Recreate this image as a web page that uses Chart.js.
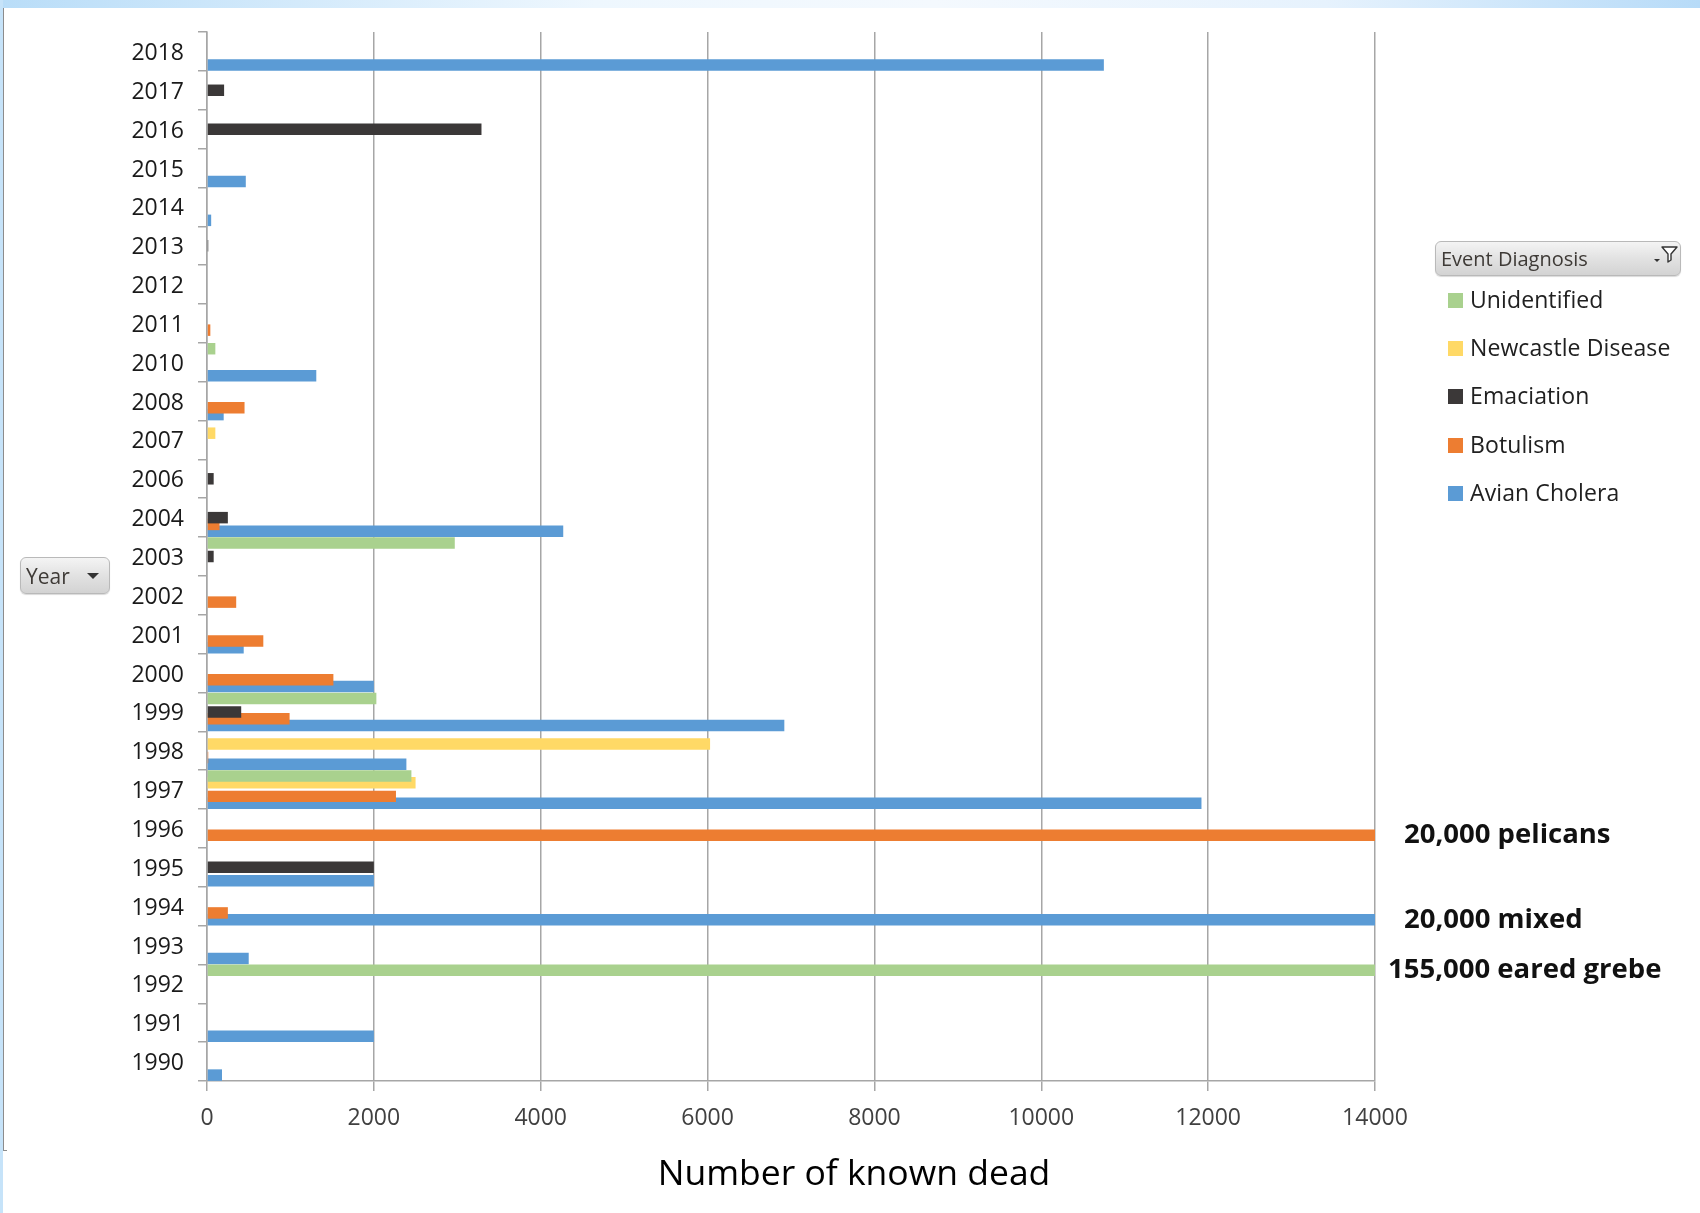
<!DOCTYPE html>
<html>
<head>
<meta charset="utf-8">
<title>Known dead by event diagnosis</title>
<script src="https://cdn.jsdelivr.net/npm/chart.js@4.4.1/dist/chart.umd.min.js"></script>
<style>
  html, body { margin: 0; padding: 0; background: #fff; }
  #wrap { position: relative; width: 1700px; height: 1213px; overflow: hidden; font-family: 'Open Sans', 'Noto Sans', sans-serif; }
  #topStrip { position: absolute; left: 0; top: 0; width: 1700px; height: 8px;
    background: linear-gradient(to right, #b9ddf8 0%, #eef7fe 35%, #f4f9fe 55%, #e6f2fd 78%, #b7dbf8 100%); }
  #leftStrip { position: absolute; left: 0; top: 0; width: 3px; height: 1213px; background: #c6e3f9; }
  #leftLine { position: absolute; left: 3px; top: 8px; width: 1px; height: 1142px; background: #8c8c8c; }
  #leftTick { position: absolute; left: 3px; top: 1150px; width: 4px; height: 1px; background: #8c8c8c; }
  canvas { position: absolute; left: 0; top: 0; }
  .btn { position: absolute; box-sizing: border-box; border: 1px solid #b9b9b9; border-radius: 6px;
    background: linear-gradient(to bottom, #f4f4f4 0%, #e2e2e2 50%, #d3d3d3 100%);
    box-shadow: 0 1px 1px rgba(0,0,0,0.15); color: #3e3a36; }
  #yearBtn { left: 20px; top: 557px; width: 90px; height: 37px; }
  #yearBtn span { position: absolute; left: 5px; top: 4px; font-size: 21px; }
  #yearBtn i { position: absolute; left: 66px; top: 15px; width: 0; height: 0;
    border-left: 6px solid transparent; border-right: 6px solid transparent; border-top: 6px solid #333; }
  #diagBtn { left: 1435px; top: 241px; width: 246px; height: 35px; }
  #diagBtn span { position: absolute; left: 5px; top: 3px; font-size: 20px; }
  #diagBtn svg { position: absolute; left: 214px; top: 2px; }
  #legend { position: absolute; left: 1448px; top: 286px; }
  .item { position: relative; height: 48.2px; }
  .item b { position: absolute; left: 0; top: 7px; width: 15px; height: 15px; }
  .item span { position: absolute; left: 22px; top: -3px; font-size: 23px; letter-spacing: 0.1px; color: #202020; white-space: nowrap; }
</style>
</head>
<body>
<div id="wrap">
  <div id="topStrip"></div>
  <div id="leftStrip"></div>
  <div id="leftLine"></div>
  <div id="leftTick"></div>
  <canvas id="chart" width="1700" height="1213"></canvas>
  <div class="btn" id="yearBtn"><span>Year</span><i></i></div>
  <div class="btn" id="diagBtn"><span>Event Diagnosis</span>
    <svg width="30" height="26" viewBox="0 0 30 26">
      <path d="M12 3 L27 3 L21 10 L21 16 L18 18 L18 10 Z" fill="#fff" stroke="#333" stroke-width="1.4" stroke-linejoin="round"/>
      <path d="M4 15 L10 15 L7 18 Z" fill="#333"/>
    </svg>
  </div>
  <div id="legend"></div>
</div>
<script>
// Nam, tu tren xuong duoi
const years = ['2018', '2017', '2016', '2015', '2014', '2013', '2012', '2011', '2010', '2008',
               '2007', '2006', '2004', '2003', '2002', '2001', '2000', '1999', '1998', '1997',
               '1996', '1995', '1994', '1993', '1992', '1991', '1990'];

const unidentified = [null, null, null, null, null, null, null, null, 100, null,
                      null, null, null, 2970, null, null, null, 2030, null, 2450,
                      null, null, null, null, 155000, null, null];
const newcastle = [null, null, null, null, null, null, null, null, null, null,
                   100, null, null, null, null, null, null, null, 6030, 2500,
                   null, null, null, null, null, null, null];
const emaciation = [null, 205, 3290, null, null, 15, null, null, null, null,
                    null, 80, 250, 80, null, null, null, 410, null, null,
                    null, 2000, null, null, null, null, null];
const botulism = [null, null, null, null, null, null, null, 40, null, 450,
                  null, null, 150, null, 350, 675, 1515, 990, 15, 2265,
                  20000, null, 250, null, null, null, null];
const avianCholera = [10750, null, null, 465, 50, null, null, null, 1310, 200,
                      null, null, 4270, null, null, 440, 2000, 6920, 2390, 11920,
                      null, 2000, 20000, 500, null, 2000, 180];

const seriesNames = ['Unidentified', 'Newcastle Disease', 'Emaciation', 'Botulism', 'Avian Cholera'];
const seriesColors = ['#a9d18e', '#ffd966', '#3b3838', '#ed7d31', '#5b9bd5'];
const seriesValues = [unidentified, newcastle, emaciation, botulism, avianCholera];

const xTicks = [0, 2000, 4000, 6000, 8000, 10000, 12000, 14000];
const xTitle = 'Number of known dead';

// Ghi chu cho cac cot vuot qua truc
const noteYears = ['1996', '1994', '1992'];
const noteSeries = ['Botulism', 'Avian Cholera', 'Unidentified'];
const noteTexts = ['20,000 pelicans', '20,000 mixed', '155,000 eared grebe'];

const FONT = "'Open Sans', 'Noto Sans', sans-serif";
const GRID = '#a6a6a6';

const notesPlugin = {
    id: 'notes',
    afterDatasetsDraw(chart) {
        const ctx = chart.ctx;
        const area = chart.chartArea;
        ctx.save();
        ctx.font = 'bold 27.5px ' + FONT;
        ctx.fillStyle = '#111';
        ctx.textBaseline = 'middle';
        ctx.textAlign = 'left';
        noteTexts.forEach((text, i) => {
            const ds = seriesNames.indexOf(noteSeries[i]);
            const idx = years.indexOf(noteYears[i]);
            const bar = chart.getDatasetMeta(ds).data[idx];
            if (!bar) return;
            const gap = text.length > 16 ? 13 : 29;
            ctx.fillText(text, area.right + gap, bar.y);
        });
        ctx.restore();
    }
};

// Tieu de truc x, can giua theo ca khung hinh (khong theo vung ve)
const xTitlePlugin = {
    id: 'xTitle',
    afterDraw(chart) {
        const ctx = chart.ctx;
        ctx.save();
        ctx.font = '35.5px ' + FONT;
        ctx.fillStyle = '#000';
        ctx.textAlign = 'center';
        ctx.textBaseline = 'middle';
        ctx.fillText(xTitle, chart.width / 2 + 4, chart.height - 38);
        ctx.restore();
    }
};

const chart = new Chart(document.getElementById('chart'), {
    type: 'bar',
    data: {
        labels: years,
        datasets: seriesNames.map((name, i) => ({
            label: name,
            data: seriesValues[i],
            backgroundColor: seriesColors[i],
            borderWidth: 0,
            categoryPercentage: 0.87,
            barPercentage: 1.7
        }))
    },
    options: {
        indexAxis: 'y',
        responsive: false,
        animation: false,
        layout: { padding: { top: 32, right: 325, left: 0, bottom: 0 } },
        plugins: {
            legend: { display: false },
            tooltip: { enabled: false }
        },
        scales: {
            y: {
                type: 'category',
                offset: true,
                grid: { display: true, offset: true, drawOnChartArea: false, drawTicks: true,
                        tickLength: 9, color: GRID, lineWidth: 1.5 },
                border: { color: GRID, width: 1.5 },
                ticks: { font: { family: FONT, size: 23 }, color: '#1a1a1a', padding: 14, labelOffset: 2 },
                afterFit: s => { s.width = 207; }
            },
            x: {
                type: 'linear',
                min: 0,
                max: 14000,
                afterBuildTicks: s => { s.ticks = xTicks.map(v => ({ value: v })); },
                grid: { color: GRID, lineWidth: 1.5, tickLength: 10, drawTicks: true },
                border: { color: GRID, width: 1.5 },
                ticks: { font: { family: FONT, size: 23 }, color: '#404040', padding: 14,
                         callback: v => String(v) },
                afterFit: s => { s.height = 132; }
            }
        }
    },
    plugins: [notesPlugin, xTitlePlugin]
});

// Chu giai ve bang HTML
const legend = document.getElementById('legend');
seriesNames.forEach((name, i) => {
    const row = document.createElement('div');
    row.className = 'item';
    row.innerHTML = '<b style="background:' + seriesColors[i] + '"></b><span>' + name + '</span>';
    legend.appendChild(row);
});
</script>
</body>
</html>
